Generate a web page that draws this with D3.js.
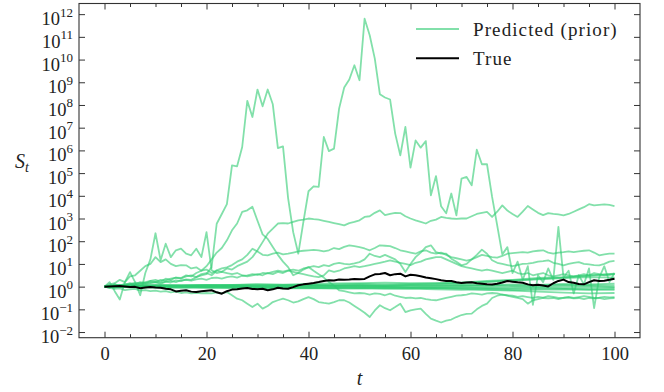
<!DOCTYPE html>
<html>
<head>
<meta charset="utf-8">
<script src="https://cdn.jsdelivr.net/npm/d3@7"></script>
<style>
body { margin:0; background:#fff; }
</style>
</head>
<body>
<svg id="chart"></svg>
<script>
// values are log10(S_t), one per step t = 0..100
var steps = d3.range(0, 101)

var trueLog = [0, 0.01, 0.02, 0.03, 0.01, -0.02, -0.01, -0.07, -0.04, -0.02,
  -0.04, -0.05, -0.09, -0.12, -0.21, -0.18, -0.16, -0.22, -0.24, -0.2,
  -0.18, -0.16, -0.25, -0.31, -0.2, -0.13, -0.12, -0.08, -0.06, -0.1,
  -0.11, -0.09, -0.16, -0.12, -0.05, -0.08, -0.09, -0.02, 0.06, 0.1,
  0.13, 0.16, 0.2, 0.25, 0.28, 0.27, 0.31, 0.3, 0.31, 0.34,
  0.33, 0.34, 0.45, 0.54, 0.56, 0.6, 0.5, 0.55, 0.57, 0.45,
  0.52, 0.5, 0.46, 0.4, 0.37, 0.33, 0.28, 0.25, 0.25, 0.19,
  0.16, 0.18, 0.19, 0.15, 0.13, 0.1, 0.09, 0.13, 0.18, 0.25,
  0.22, 0.19, 0.17, 0.1, 0.06, 0.08, 0.05, 0.01, 0.15, 0.25,
  0.31, 0.2, 0.17, 0.12, 0.1, 0.2, 0.28, 0.25, 0.26, 0.3,
  0.35]

var bigLog = [0, 0.04, -0.05, 0.08, 0.02, 0.1, 0.06, 0.14, 0.1, 0.16,
  0.2, 0.12, 0.22, 0.18, 0.28, 0.24, 0.32, 0.3, 0.42, 0.5,
  0.55, 0.86, 2.77, 3.2, 3.63, 5.34, 5.3, 6.15, 8.18, 7.47,
  8.68, 7.94, 8.68, 8.03, 6.1, 6.18, 3.9, 2.4, 1.45, 2.85,
  4.2, 4.42, 4.39, 6.59, 5.97, 6.08, 7.84, 8.77, 9.12, 9.75,
  9.09, 11.8, 11.07, 10.04, 8.47, 8.33, 8.24, 6.74, 5.78, 7.03,
  5.24, 6.44, 6.12, 6.41, 4.02, 4.87, 3.54, 3.23, 4.1, 3.14,
  4.76, 4.83, 4.46, 6.03, 5.39, 5.39, 3.95, 2.7, 1.42, 1.74,
  0.6, 1.1, 0.3, 0.9, -0.8, 0.5, 0.2, 0.8, 0.3, 2.63,
  0.4, 0.7, -0.3, 0.5, 0.1, 0.8, -0.95, 0.4, 0.9, 0.2,
  0.6]

var plateauLog = [0, 0.05, 0.1, 0.02, 0.08, 0.15, 0.1, 0.2, 0.15, 0.25,
  0.3, 0.22, 0.35, 0.3, 0.4, 0.35, 0.45, 0.5, 0.42, 0.55,
  0.6, 0.5, 0.7, 0.65, 0.8, 0.75, 0.9, 1.0, 1.1, 1.3,
  1.6, 1.96, 2.33, 2.55, 2.78, 2.8, 2.78, 2.85, 2.92, 2.95,
  3.0, 2.97, 2.95, 2.9, 2.85, 2.8, 2.75, 2.7, 2.8, 2.85,
  2.92, 3.07, 3.1, 3.25, 3.36, 3.15, 3.2, 3.25, 3.24, 3.1,
  3.0, 2.92, 2.85, 2.78, 2.9, 2.95, 3.07, 3.03, 3.0, 2.98,
  3.0, 3.0, 3.1, 3.2, 3.25, 3.29, 3.07, 3.3, 3.58, 3.35,
  3.2, 3.07, 3.3, 3.55, 3.4, 3.25, 3.15, 3.24, 3.2, 3.18,
  3.14, 3.2, 3.3, 3.4, 3.5, 3.63, 3.58, 3.6, 3.62, 3.6,
  3.55]

var humpLog = [0, -0.05, 0.1, 0.05, 0.12, 0.1, 0.18, 0.15, 0.2, 0.25,
  0.2, 0.3, 0.28, 0.35, 0.4, 0.38, 0.5, 0.45, 0.6, 0.7,
  0.9, 1.2, 1.5, 1.7, 2.04, 2.48, 2.78, 3.29, 3.36, 3.52,
  2.9, 2.3, 2.1, 1.75, 1.4, 1.1, 0.86, 0.5, 0.6, 0.75,
  0.86, 0.7, 0.55, 0.4, 0.2, 0.05, -0.16, -0.2, -0.25, -0.3,
  -0.28, -0.3, -0.35, -0.3, -0.32, -0.38, -0.31, -0.4, -0.45, -0.5,
  -0.48, -0.52, -0.5, -0.55, -0.58, -0.6, -0.55, -0.5, -0.45, -0.4,
  -0.38, -0.35, -0.3, -0.32, -0.35, -0.3, -0.28, -0.3, -0.35, -0.4,
  -0.45, -0.5, -0.55, -0.75, -0.6, -0.55, -0.5, -0.52, -0.5, -0.55,
  -0.5, -0.48, -0.52, -0.5, -0.55, -0.5, -0.52, -0.5, -0.55, -0.52,
  -0.5]

var lowLog = [0, -0.05, -0.1, -0.08, -0.15, -0.12, -0.1, -0.18, -0.15, -0.2,
  -0.18, -0.22, -0.2, -0.25, -0.22, -0.28, -0.25, -0.3, -0.27, -0.3,
  -0.28, -0.3, -0.25, -0.3, -0.24, -0.38, -0.53, -0.6, -0.75, -0.9,
  -0.75, -0.97, -0.85, -0.68, -0.6, -0.53, -0.6, -0.7, -0.65, -0.55,
  -0.46, -0.55, -0.68, -0.72, -0.75, -0.68, -0.6, -0.6, -0.7, -0.85,
  -1.0, -1.15, -1.34, -1.05, -0.82, -0.95, -1.04, -0.9, -0.75, -1.12,
  -1.05, -1.0, -0.97, -1.2, -1.41, -1.5, -1.58, -1.5, -1.45, -1.34,
  -1.25, -1.2, -1.19, -1.0, -0.85, -0.75, -0.5, -0.4, -0.35, -0.38,
  -0.4, -0.45, -0.42, -0.46, -0.5, -0.45, -0.48, -0.42, -0.45, -0.5,
  -0.48, -0.45, -0.5, -0.46, -0.42, -0.45, -0.5, -0.48, -0.45, -0.47,
  -0.46]

var upperMidLog = [0, 0.1, 0.15, 0.3, 0.2, 0.45, 0.5, 0.7, 0.9, 1.0,
  1.3, 1.08, 1.2, 1.0, 0.9, 0.95, 0.94, 0.8, 0.85, 0.7,
  0.75, 0.6, 0.72, 0.8, 0.85, 0.95, 1.1, 1.2, 1.4, 1.67,
  1.55, 1.4, 1.38, 1.45, 1.5, 1.42, 1.45, 1.5, 1.55, 1.58,
  1.6, 1.62, 1.6, 1.55, 1.6, 1.7, 1.65, 1.75, 1.82, 1.78,
  1.74, 1.68, 1.6, 1.7, 1.82, 1.8, 1.78, 1.7, 1.6, 1.55,
  1.5, 1.45, 1.55, 1.6, 1.5, 1.45, 1.5, 1.4, 1.3, 1.25,
  1.2, 1.15, 1.2, 1.3, 1.4, 1.35, 1.3, 1.28, 1.35, 1.45,
  1.48, 1.5, 1.52, 1.5, 1.55, 1.58, 1.6, 1.5, 1.45, 1.5,
  1.52, 1.55, 1.52, 1.55, 1.58, 1.6, 1.5, 1.38, 1.42, 1.45,
  1.45]

var midLog = [0, 0.02, 0.05, 0.08, 0.06, 0.1, 0.12, 0.1, 0.15, 0.18,
  0.2, 0.18, 0.22, 0.25, 0.2, 0.28, 0.3, 0.26, 0.32, 0.35,
  0.3, 0.38, 0.4, 0.35, 0.42, 0.45, 0.4, 0.48, 0.5, 0.55,
  0.52, 0.6, 0.58, 0.65, 0.7, 0.66, 0.72, 0.75, 0.7, 0.8,
  0.85, 0.9, 0.86, 0.95, 0.9, 1.0, 1.05, 1.0, 0.98, 1.02,
  1.08, 1.2, 1.45, 1.35, 1.3, 1.4, 1.3, 1.2, 1.0, 0.64,
  1.0, 1.3, 1.5, 1.74, 1.82, 1.52, 1.45, 1.45, 1.23, 1.1,
  0.94, 1.0, 1.2, 1.4, 1.63, 1.45, 1.16, 1.05, 1.0, 0.95,
  0.9, 0.95, 1.0, 1.01, 1.05, 1.1, 1.12, 1.16, 1.05, 1.0,
  0.94, 1.0, 1.05, 1.08, 1.0, 0.98, 0.95, 0.94, 1.0, 1.1,
  1.13]

var spikyLog = [0, 0.2, -0.2, -0.57, 0.2, 0.64, 0.2, -0.38, 0.6, 1.2,
  2.35, 1.16, 1.89, 1.3, 1.6, 1.67, 1.45, 1.38, 1.67, 1.3,
  2.4, 0.72, 0.6, 0.65, 0.6, 0.55, 0.6, 0.5, 0.45, 0.5,
  0.55, 0.5, 0.6, 0.55, 0.65, 0.6, 0.7, 0.65, 0.6, 0.55,
  0.5, 0.45, 0.42, 0.5, 0.72, 0.65, 0.7, 0.8, 0.85, 0.9,
  0.86, 0.9, 0.95, 1.0, 1.05, 1.1, 1.16, 1.1, 1.05, 1.0,
  0.95, 1.05, 1.1, 1.2, 1.25, 1.3, 1.3, 1.2, 1.1, 1.0,
  0.9, 0.85, 0.8, 0.75, 0.7, 0.75, 0.7, 0.65, 0.6, 0.65,
  0.7, 0.6, 0.55, 0.6, 0.5, 0.55, 0.6, 0.5, 0.45, 0.5,
  0.55, 0.5, 0.45, 0.5, 0.55, 0.5, 0.6, 0.55, 0.5, 0.52,
  0.55]

// the thick bundle near 1, read every 5 steps
var coarseSteps = [0, 5, 10, 15, 20, 25, 30, 35, 40, 45, 50, 55, 60, 65, 70, 75, 80, 85, 90, 95, 100]
var bundleA = [0, 0.04, 0.06, 0.05, 0.08, 0.06, 0.1, 0.08, 0.06, 0.1, 0.12, 0.1, 0.12, 0.15, 0.18, 0.25, 0.3, 0.38, 0.42, 0.5, 0.57]
var bundleB = [0, -0.02, 0.0, 0.03, 0.05, 0.02, 0.0, 0.04, 0.06, 0.04, 0.07, 0.05, 0.08, 0.1, 0.14, 0.2, 0.26, 0.32, 0.38, 0.42, 0.4]
var bundleC = [0, 0.02, -0.02, -0.04, -0.02, -0.04, -0.06, -0.04, -0.07, -0.06, -0.04, -0.06, -0.08, -0.07, -0.1, -0.14, -0.18, -0.22, -0.26, -0.3, -0.28]
var bundleD = [0, 0.03, 0.05, 0.04, 0.06, 0.07, 0.05, 0.06, 0.05, 0.03, 0.05, 0.02, 0.04, 0.05, 0.08, 0.06, 0.1, 0.08, 0.12, 0.1, 0.13]
var bundleE = [0, -0.03, -0.04, -0.03, -0.05, -0.06, -0.07, -0.08, -0.06, -0.09, -0.08, -0.1, -0.09, -0.12, -0.14, -0.12, -0.15, -0.13, -0.12, -0.14, -0.14]
var bundleF = [0, 0.02, 0.03, 0.02, 0.0, 0.02, 0.03, 0.0, 0.02, 0.03, 0.02, 0.0, -0.02, 0.0, 0.02, 0.03, 0.01, 0.0, 0.02, 0.03, -0.02]
var bundleG = [0, 0.04, 0.07, 0.06, 0.05, 0.08, 0.1, 0.09, 0.12, 0.14, 0.15, 0.18, 0.15, 0.14, 0.18, 0.22, 0.28, 0.34, 0.4, 0.48, 0.55]
var bundleH = [0, -0.01, 0.01, 0.0, -0.02, 0.0, -0.02, -0.03, -0.02, -0.01, -0.03, -0.02, -0.04, -0.05, -0.03, -0.06, -0.05, -0.03, -0.06, -0.05, -0.04]
var bundleI = [0, 0.01, 0.02, 0.03, 0.02, 0.04, 0.03, 0.02, 0.04, 0.05, 0.03, 0.04, 0.06, 0.04, 0.05, 0.07, 0.05, 0.06, 0.08, 0.06, 0.05]
var bundleJ = [0, -0.02, -0.01, -0.02, -0.03, -0.02, -0.04, -0.03, -0.05, -0.04, -0.06, -0.05, -0.04, -0.06, -0.05, -0.07, -0.1, -0.08, -0.1, -0.12, -0.1]

var xMajor = [0, 20, 40, 60, 80, 100]
var xMinor = [5, 10, 15, 25, 30, 35, 45, 50, 55, 65, 70, 75, 85, 90, 95]
var decades = [-2, -1, 0, 1, 2, 3, 4, 5, 6, 7, 8, 9, 10, 11, 12]
var legendLabels = ["Predicted (prior)", "True"]

var screen = {width:664, height:392}
var plot = {left:79, right:640, top:3.5, bottom:337.7}
var green = "#2ecc71"
var ink = "#222"
var serif = "'Liberation Serif', 'Times New Roman', serif"

var pairs = function(ts, vs) {
  return ts.map(function(t, i){ return {t:t, v:vs[i]} })
}

var predicted = [
  pairs(steps, bigLog), pairs(steps, plateauLog), pairs(steps, humpLog),
  pairs(steps, lowLog), pairs(steps, upperMidLog), pairs(steps, midLog),
  pairs(steps, spikyLog),
  pairs(coarseSteps, bundleA), pairs(coarseSteps, bundleB), pairs(coarseSteps, bundleC),
  pairs(coarseSteps, bundleD), pairs(coarseSteps, bundleE), pairs(coarseSteps, bundleF),
  pairs(coarseSteps, bundleG), pairs(coarseSteps, bundleH), pairs(coarseSteps, bundleI),
  pairs(coarseSteps, bundleJ)
]
var truth = pairs(steps, trueLog)

var svg = d3.select("#chart")
  .attr("width", screen.width)
  .attr("height", screen.height)

var xScale = d3.scaleLinear()
  .domain([-5, 105])
  .range([plot.left, plot.right])

// log axis padded by 5% like matplotlib
var allLogs = d3.merge(predicted.concat([truth]).map(function(s){ return s.map(function(d){ return d.v }) }))
var lo = d3.min(allLogs), hi = d3.max(allLogs), pad = (hi - lo) * 0.05
var yScale = d3.scaleLog()
  .domain([Math.pow(10, lo - pad), Math.pow(10, hi + pad)])
  .range([plot.bottom, plot.top])

svg.append("clipPath").attr("id", "clip")
  .append("rect")
  .attr("x", plot.left).attr("y", plot.top)
  .attr("width", plot.right - plot.left).attr("height", plot.bottom - plot.top)

var lineGenerator = d3.line()
  .x(function(d){ return xScale(d.t) })
  .y(function(d){ return yScale(Math.pow(10, d.v)) })

var lines = svg.append("g").attr("clip-path", "url(#clip)")

lines.selectAll("path.pred")
  .data(predicted)
  .enter()
  .append("path")
  .classed("pred", true)
  .attr("d", lineGenerator)
  .attr("fill", "none")
  .attr("stroke", green)
  .attr("stroke-opacity", 0.6)
  .attr("stroke-width", 1.8)
  .attr("stroke-linejoin", "round")

lines.append("path")
  .datum(truth)
  .attr("d", lineGenerator)
  .attr("fill", "none")
  .attr("stroke", "#000")
  .attr("stroke-width", 2)
  .attr("stroke-linejoin", "round")

// axes, ticks pointing inward on all four sides
var tickColor = "#333"
var styleAxis = function(g) {
  g.select(".domain").remove()
  g.selectAll("line").attr("stroke", tickColor).attr("stroke-width", 1)
  g.selectAll("text")
    .attr("font-family", serif)
    .attr("font-size", "18.5px")
    .attr("fill", ink)
}

svg.append("g")
  .attr("transform", "translate(0," + plot.bottom + ")")
  .call(d3.axisBottom(xScale).tickValues(xMajor).tickSizeInner(-6).tickSizeOuter(0)
    .tickPadding(9.5).tickFormat(d3.format("d")))
  .call(styleAxis)

svg.append("g")
  .attr("transform", "translate(0," + plot.bottom + ")")
  .call(d3.axisBottom(xScale).tickValues(xMinor).tickSizeInner(-3.5).tickSizeOuter(0).tickFormat(""))
  .call(styleAxis)

svg.append("g")
  .attr("transform", "translate(0," + plot.top + ")")
  .call(d3.axisTop(xScale).tickValues(xMajor).tickSizeInner(-6).tickSizeOuter(0).tickFormat(""))
  .call(styleAxis)

svg.append("g")
  .attr("transform", "translate(0," + plot.top + ")")
  .call(d3.axisTop(xScale).tickValues(xMinor).tickSizeInner(-3.5).tickSizeOuter(0).tickFormat(""))
  .call(styleAxis)

var decadeValues = decades.map(function(k){ return Math.pow(10, k) })

svg.append("g")
  .attr("transform", "translate(" + plot.left + ",0)")
  .call(d3.axisLeft(yScale).tickValues(decadeValues).tickSizeInner(-6).tickSizeOuter(0).tickFormat(""))
  .call(styleAxis)

svg.append("g")
  .attr("transform", "translate(" + plot.right + ",0)")
  .call(d3.axisRight(yScale).tickValues(decadeValues).tickSizeInner(-6).tickSizeOuter(0).tickFormat(""))
  .call(styleAxis)

var yLabels = svg.append("g")
  .selectAll("text")
  .data(decades)
  .enter()
  .append("text")
  .attr("x", plot.left - 6)
  .attr("y", function(k){ return yScale(Math.pow(10, k)) + 11 })
  .attr("text-anchor", "end")
  .attr("font-family", serif)
  .attr("font-size", "18.5px")
  .attr("fill", ink)

yLabels.append("tspan").text("10")
yLabels.append("tspan")
  .attr("dy", -8.5)
  .attr("font-size", "13px")
  .text(function(k){ return k < 0 ? "\u2212" + (-k) : String(k) })

svg.append("rect")
  .attr("x", plot.left).attr("y", plot.top)
  .attr("width", plot.right - plot.left).attr("height", plot.bottom - plot.top)
  .attr("fill", "none")
  .attr("stroke", tickColor)
  .attr("stroke-width", 1.1)

// axis labels
svg.append("text")
  .attr("x", (plot.left + plot.right) / 2)
  .attr("y", 385)
  .attr("text-anchor", "middle")
  .attr("font-family", serif)
  .attr("font-size", "20px")
  .attr("font-style", "italic")
  .attr("fill", ink)
  .text("t")

var yTitle = svg.append("text")
  .attr("x", 15)
  .attr("y", 168)
  .attr("font-family", serif)
  .attr("font-size", "20px")
  .attr("font-style", "italic")
  .attr("fill", ink)
yTitle.append("tspan").text("S")
yTitle.append("tspan").attr("dy", 4).attr("font-size", "14px").text("t")

// legend
var legend = svg.append("g")
  .selectAll("g")
  .data(legendLabels)
  .enter()
  .append("g")
  .attr("transform", function(d, i){ return "translate(416," + (29 + i * 29.3) + ")" })

legend.append("line")
  .attr("x1", 0).attr("x2", 43)
  .attr("stroke", function(d, i){ return i == 0 ? green : "#000" })
  .attr("stroke-opacity", function(d, i){ return i == 0 ? 0.6 : 1 })
  .attr("stroke-width", function(d, i){ return i == 0 ? 1.8 : 2 })

legend.append("text")
  .attr("x", 57)
  .attr("y", 6.5)
  .attr("font-family", serif)
  .attr("font-size", "19px")
  .attr("letter-spacing", "1.1px")
  .attr("fill", ink)
  .text(function(d){ return d })
</script>
</body>
</html>
